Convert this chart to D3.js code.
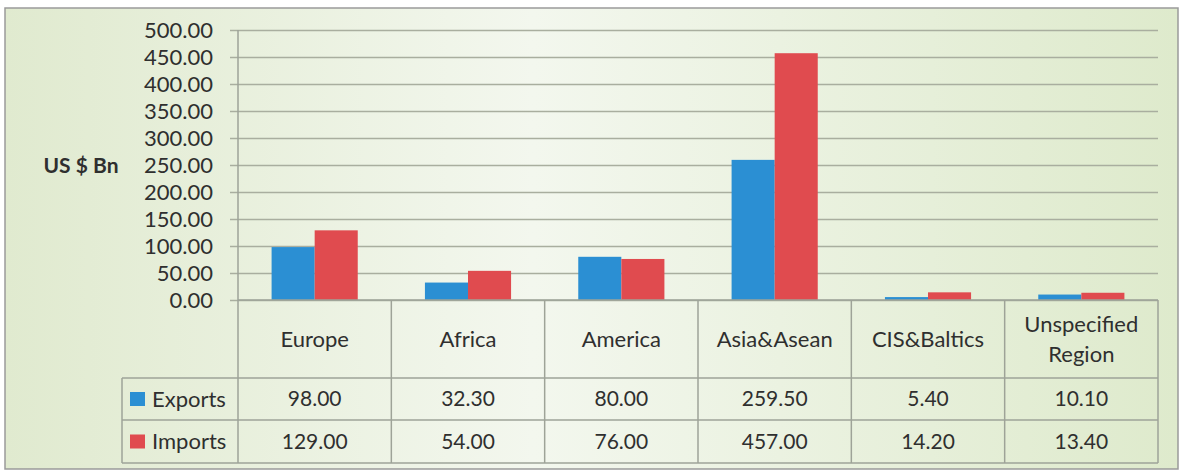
<!DOCTYPE html>
<html>
<head>
<meta charset="utf-8">
<script src="https://cdn.jsdelivr.net/npm/d3@7"></script>
<style>
  body { margin: 0; background: #fff; }
  svg { display: block; font-family: Lato, "Open Sans", sans-serif; }
</style>
</head>
<body>
<div id="app"></div>
<script>
var categories = ["Europe", "Africa", "America", "Asia&Asean", "CIS&Baltics", "Unspecified Region"];
var seriesNames = ["Exports", "Imports"];
var exportsValues = [98.00, 32.30, 80.00, 259.50, 5.40, 10.10];
var importsValues = [129.00, 54.00, 76.00, 457.00, 14.20, 13.40];
var yTicks = [0, 50, 100, 150, 200, 250, 300, 350, 400, 450, 500];
var colors = ["#2b8fd3", "#e04b4f"];

var W = 1183, H = 471;
var plotL = 238, plotR = 1158, plotT = 30, plotB = 300;
var catRowB = 378, expRowB = 420, impRowB = 463;
var legendL = 122;
var gridColor = "#a9ae9f", tableColor = "#9ea398", textColor = "#2f2f2f";

var svg = d3.select("#app").append("svg")
    .attr("width", W)
    .attr("height", H);

// background gradient
var grad = svg.append("defs").append("linearGradient")
    .attr("id", "bg")
    .attr("x1", "0%").attr("x2", "100%").attr("y1", "0%").attr("y2", "0%");
grad.append("stop").attr("offset", "0%").attr("stop-color", "#e0eacf");
grad.append("stop").attr("offset", "45%").attr("stop-color", "#f3f7ee");
grad.append("stop").attr("offset", "100%").attr("stop-color", "#deeacc");

svg.append("rect")
    .attr("x", 5).attr("y", 8)
    .attr("width", 1173).attr("height", 461)
    .style("fill", "url(#bg)")
    .style("stroke", "#9a9a9a")
    .style("stroke-width", 1.5);

var x0 = d3.scaleBand().domain(categories).range([plotL, plotR]);
var x1 = d3.scaleBand().domain(seriesNames).range([0, x0.bandwidth()]).paddingOuter(0.78);
var y = d3.scaleLinear().domain([0, 500]).range([plotB, plotT]);

//GRID + Y AXIS
var yAxis = d3.axisLeft(y)
    .tickValues(yTicks)
    .tickSize(-(plotR - plotL))
    .tickPadding(25)
    .tickFormat(d3.format(".2f"));
var ya = svg.append("g")
    .attr("transform", "translate(" + plotL + ",0)")
    .call(yAxis);
ya.select(".domain").remove();
ya.selectAll(".tick line")
    .attr("x1", -8)
    .style("stroke", gridColor)
    .style("stroke-width", 1.6);
ya.selectAll(".tick text")
    .style("font-size", "22px")
    .style("fill", textColor)
    .style("font-family", "Lato, sans-serif");

svg.append("text")
    .attr("x", 81).attr("y", 173)
    .attr("text-anchor", "middle")
    .style("font-size", "21px")
    .style("font-weight", "bold")
    .style("fill", textColor)
    .text("US $ Bn");

//BARS
var rows = categories.map(function (c, i) {
    return { cat: c, values: [exportsValues[i], importsValues[i]] };
});
var groups = svg.selectAll(".grp")
    .data(rows)
    .enter()
    .append("g")
    .attr("class", "grp")
    .attr("transform", function (d) { return "translate(" + x0(d.cat) + ",0)"; });
groups.selectAll("rect")
    .data(function (d) { return d.values.map(function (v, j) { return { s: seriesNames[j], v: v, j: j }; }); })
    .enter()
    .append("rect")
    .attr("x", function (d) { return x1(d.s); })
    .attr("y", function (d) { return y(d.v); })
    .attr("width", x1.bandwidth())
    .attr("height", function (d) { return plotB - y(d.v); })
    .style("fill", function (d) { return colors[d.j]; });

//TABLE
var tbl = svg.append("g")
    .style("stroke", tableColor)
    .style("stroke-width", 1.5)
    .style("fill", "none");
// vertical lines
tbl.append("line").attr("x1", plotL).attr("x2", plotL).attr("y1", plotT).attr("y2", impRowB);
categories.forEach(function (c) {
    var xr = x0(c) + x0.bandwidth();
    tbl.append("line").attr("x1", xr).attr("x2", xr).attr("y1", plotB).attr("y2", impRowB);
});
tbl.append("line").attr("x1", legendL).attr("x2", legendL).attr("y1", catRowB).attr("y2", impRowB);
// horizontal lines
tbl.append("line").attr("x1", plotL).attr("x2", plotR).attr("y1", plotB).attr("y2", plotB);
[catRowB, expRowB, impRowB].forEach(function (yy) {
    tbl.append("line").attr("x1", legendL).attr("x2", plotR).attr("y1", yy).attr("y2", yy);
});

// category labels
categories.forEach(function (c) {
    var words = c === "Unspecified Region" ? ["Unspecified", "Region"] : [c];
    var cx = x0(c) + x0.bandwidth() / 2;
    var cy = (plotB + catRowB) / 2;
    words.forEach(function (w, k) {
        svg.append("text")
            .attr("x", cx)
            .attr("y", cy + (k - (words.length - 1) / 2) * 30)
            .attr("dy", "0.35em")
            .attr("text-anchor", "middle")
            .style("font-size", "22px")
            .style("fill", textColor)
            .text(w);
    });
});

// data rows
var fmt = d3.format(".2f");
var rowY = [(catRowB + expRowB) / 2, (expRowB + impRowB) / 2];
[exportsValues, importsValues].forEach(function (vals, j) {
    svg.append("rect")
        .attr("x", legendL + 8)
        .attr("y", rowY[j] - 7)
        .attr("width", 15).attr("height", 14)
        .style("fill", colors[j]);
    svg.append("text")
        .attr("x", legendL + 30)
        .attr("y", rowY[j])
        .attr("dy", "0.35em")
        .style("font-size", "22px")
        .style("fill", textColor)
        .text(seriesNames[j]);
    vals.forEach(function (v, i) {
        svg.append("text")
            .attr("x", x0(categories[i]) + x0.bandwidth() / 2)
            .attr("y", rowY[j])
            .attr("dy", "0.35em")
            .attr("text-anchor", "middle")
            .style("font-size", "21px")
            .style("fill", textColor)
            .text(fmt(v));
    });
});
</script>
</body>
</html>
